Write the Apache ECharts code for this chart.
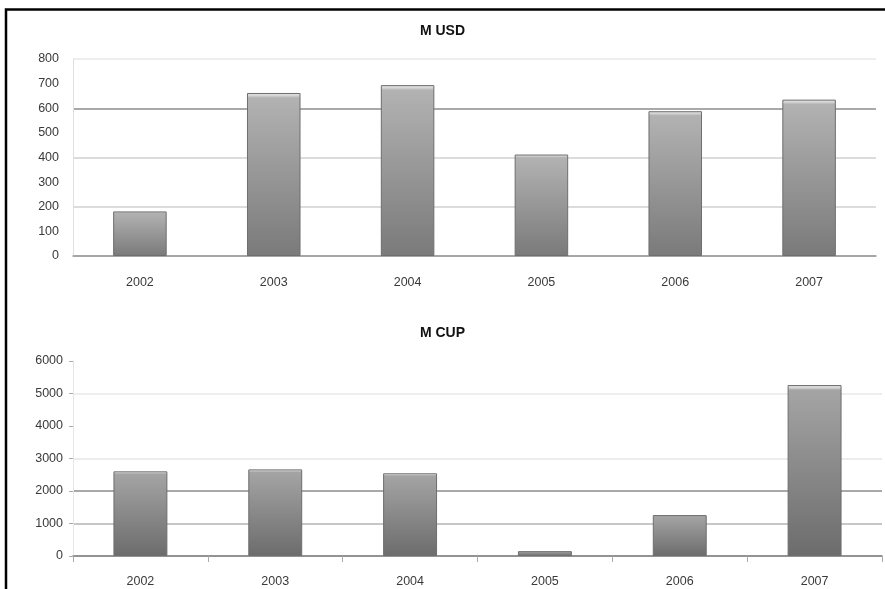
<!DOCTYPE html>
<html>
<head>
<meta charset="utf-8">
<script src="https://cdn.jsdelivr.net/npm/echarts@6/dist/echarts.min.js"></script>
<style>
html,body{margin:0;padding:0;background:#fff;}
#chart{width:885px;height:589px;}
</style>
</head>
<body>
<div id="chart"></div>
<script>
var categories = ['2002', '2003', '2004', '2005', '2006', '2007'];
var usdValues = [181, 662, 694, 412, 588, 635];
var cupValues = [2605, 2665, 2545, 150, 1260, 5260];
var usdTitle = 'M USD';
var cupTitle = 'M CUP';

var chart = echarts.init(document.getElementById('chart'));

function barStyle(top, bottom) {
  return {
    color: new echarts.graphic.LinearGradient(0, 0, 0, 1, [
      {offset: 0, color: '#e2e2e2'},
      {offset: 0.015, color: '#d6d6d6'},
      {offset: 0.03, color: top},
      {offset: 1, color: bottom}
    ]),
    borderColor: '#6e6e6e',
    borderWidth: 1
  };
}

var labelStyle = {color: '#3a3a3a', fontFamily: 'Liberation Sans, Arial, sans-serif', fontSize: 12.5,
  formatter: function (v) { return String(v); }};
var T = 'rgba(0,0,0,0)';

chart.setOption({
  animation: false,
  backgroundColor: '#fff',
  title: [
    {text: usdTitle, left: 'center', top: 19, textStyle: {fontFamily: 'Liberation Sans, Arial, sans-serif', fontSize: 14, fontWeight: 'bold', color: '#111'}},
    {text: cupTitle, left: 'center', top: 321, textStyle: {fontFamily: 'Liberation Sans, Arial, sans-serif', fontSize: 14, fontWeight: 'bold', color: '#111'}}
  ],
  graphic: [{
    type: 'rect', silent: true, z: 100,
    shape: {x: 6, y: 9.5, width: 1000, height: 1000},
    style: {fill: 'none', stroke: '#000', lineWidth: 2.5}
  }],
  grid: [
    {left: 73, right: 9, top: 59, bottom: 333},
    {left: 73, right: 3, top: 361, bottom: 33}
  ],
  xAxis: [
    {gridIndex: 0, type: 'category', data: categories,
     axisLine: {lineStyle: {color: '#a0a0a0', width: 1.5}},
     axisTick: {show: false},
     axisLabel: Object.assign({}, labelStyle, {margin: 20})},
    {gridIndex: 1, type: 'category', data: categories,
     axisLine: {lineStyle: {color: '#8c8c8c', width: 1.5}},
     axisTick: {show: true, length: 6, lineStyle: {color: '#aaa'}},
     axisLabel: Object.assign({}, labelStyle, {margin: 19})}
  ],
  yAxis: [
    {gridIndex: 0, type: 'value', min: 0, max: 800, interval: 100,
     axisLine: {show: true, lineStyle: {color: '#e0e0e0', width: 1}},
     axisTick: {show: false},
     axisLabel: Object.assign({}, labelStyle, {margin: 14}),
     splitLine: {show: true, lineStyle: {width: 1.5, color: ['#a0a0a0', T, '#d0d0d0', T, '#d0d0d0', T, '#8c8c8c', T, '#e8e8e8']}}},
    {gridIndex: 1, type: 'value', min: 0, max: 6000, interval: 1000,
     axisLine: {show: true, lineStyle: {color: '#e6e6e6', width: 1}},
     axisTick: {show: true, length: 4, lineStyle: {color: '#aaa'}},
     axisLabel: Object.assign({}, labelStyle, {margin: 10}),
     splitLine: {show: true, lineStyle: {width: 1.5, color: ['#8c8c8c', '#b4b4b4', '#8c8c8c', '#e6e6e6', T, '#e8e8e8', T]}}}
  ],
  series: [
    {type: 'bar', xAxisIndex: 0, yAxisIndex: 0, data: usdValues, barWidth: '40%',
     itemStyle: barStyle('#b2b2b2', '#7a7a7a')},
    {type: 'bar', xAxisIndex: 1, yAxisIndex: 1, data: cupValues, barWidth: '40%',
     itemStyle: barStyle('#a4a4a4', '#6c6c6c')}
  ]
});
</script>
</body>
</html>
